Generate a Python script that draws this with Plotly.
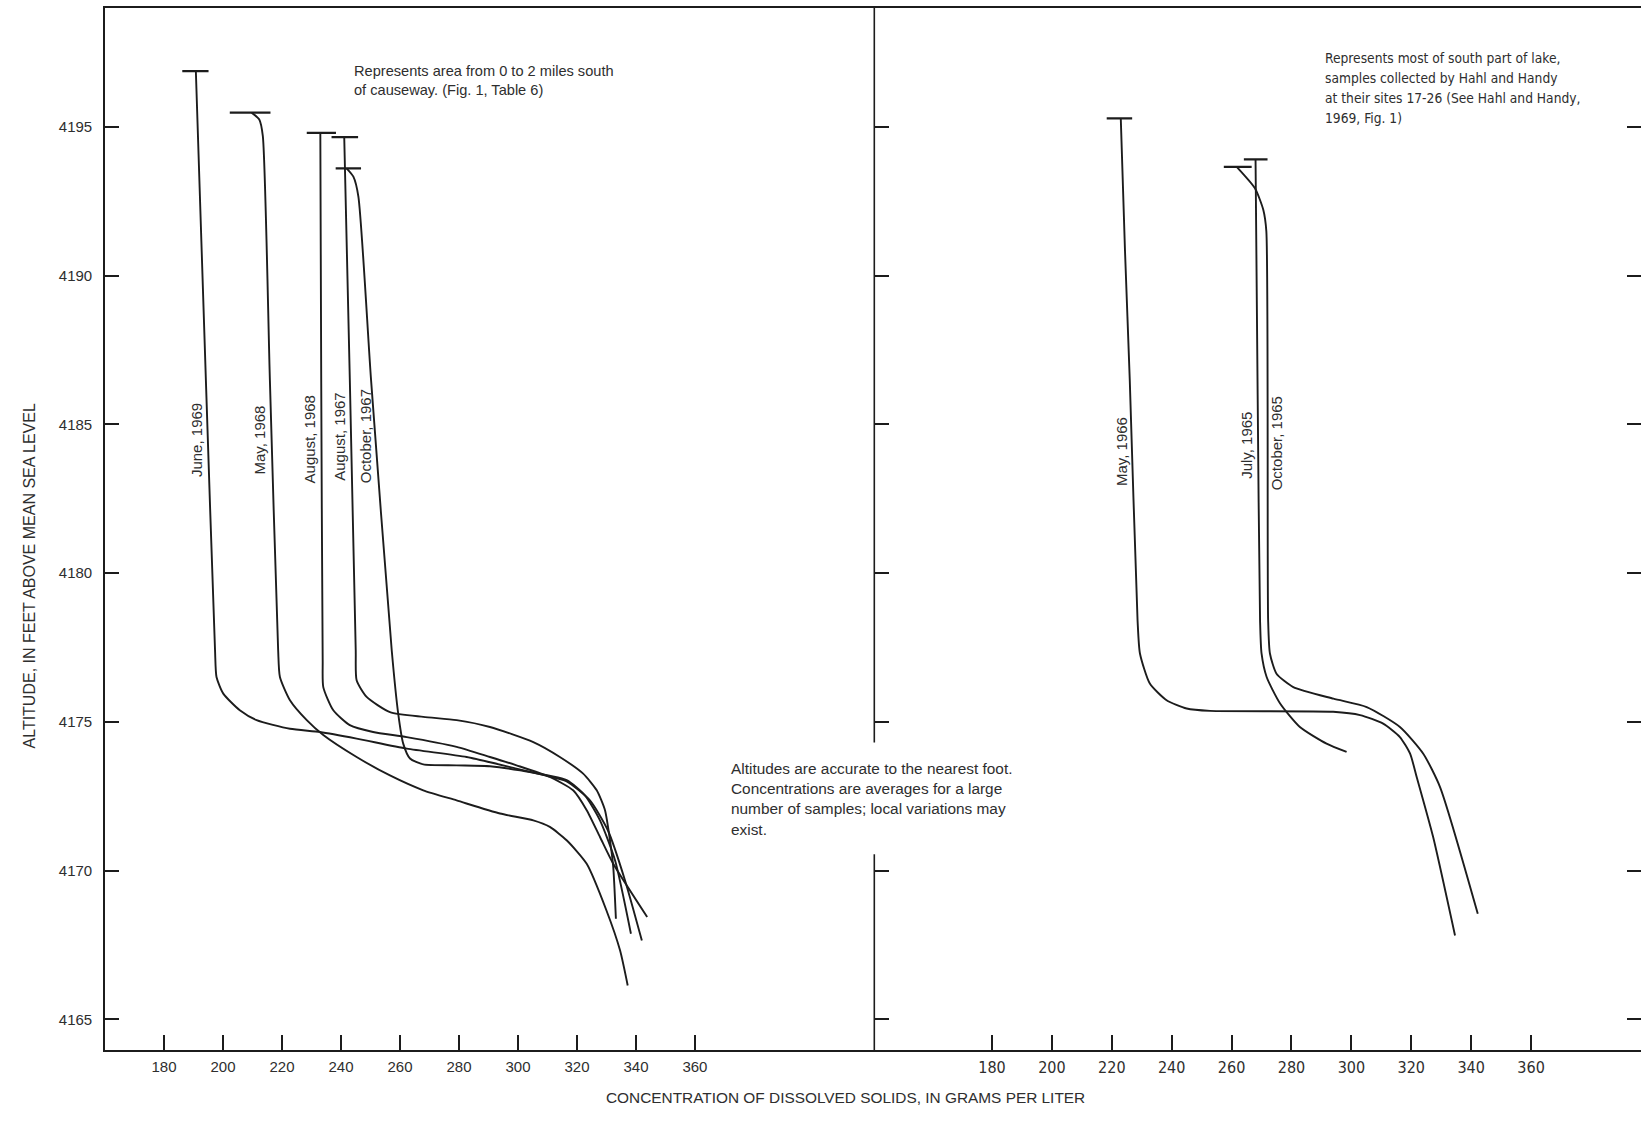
import plotly.graph_objects as go

# ---------------- data ----------------
alt_ticks = [4165, 4170, 4175, 4180, 4185, 4190, 4195]
conc_ticks = [180, 200, 220, 240, 260, 280, 300, 320, 340, 360]

# Left panel: area 0-2 miles south of causeway
june1969_conc = [190.8, 194.2, 197.3, 197.8, 200.1, 205.7, 211.4, 222.7, 232.9, 245.3, 262.3,
                 282.6, 299.5, 309.1, 316.5, 324.4, 330.5, 336.3, 342.0]
june1969_alt = [4196.88, 4186.49, 4177.41, 4176.51, 4175.95, 4175.39, 4175.06, 4174.77, 4174.66, 4174.44, 4174.10,
                4173.82, 4173.43, 4173.20, 4173.00, 4172.36, 4171.35, 4169.67, 4167.65]
june1969_cap = [186.2, 195.1]

may1968_conc = [209.7, 212.3, 213.5, 215.9, 218.7, 219.3, 222.7, 228.4, 234.0, 245.3, 256.6, 267.9,
                279.2, 293.9, 305.2, 310.8, 316.5, 323.3, 330.0, 334.6, 337.2]
may1968_alt = [4195.48, 4195.25, 4194.70, 4186.49, 4177.41, 4176.51, 4175.73, 4175.06, 4174.56, 4173.82, 4173.20, 4172.70,
               4172.36, 4171.92, 4171.69, 4171.47, 4171.02, 4170.23, 4168.66, 4167.32, 4166.14]
may1968_cap = [202.3, 216.1]

aug1968_conc = [233.0, 233.3, 233.8, 234.0, 237.4, 243.0, 250.9, 262.3, 279.2, 290.5, 299.5, 310.8,
                318.7, 323.3, 327.8, 332.3, 343.8]
aug1968_alt = [4194.80, 4186.49, 4177.07, 4176.17, 4175.39, 4174.89, 4174.66, 4174.49, 4174.16, 4173.82, 4173.54, 4173.15,
               4172.70, 4172.03, 4171.13, 4170.23, 4168.44]
aug1968_cap = [228.4, 238.3]

aug1967_conc = [241.1, 243.0, 245.0, 245.3, 248.7, 256.6, 267.9, 279.2, 290.5, 305.2, 314.2, 322.1,
                326.7, 329.5, 331.2, 332.3, 333.2]
aug1967_alt = [4194.66, 4186.49, 4177.41, 4176.40, 4175.84, 4175.33, 4175.17, 4175.06, 4174.83, 4174.32, 4173.82, 4173.26,
               4172.70, 4172.03, 4171.02, 4170.12, 4168.38]
aug1967_cap = [236.8, 245.8]

oct1967_conc = [241.9, 244.2, 245.9, 250.2, 257.2, 259.4, 261.1, 263.4, 267.9, 279.2, 290.5, 300.7,
                316.5, 322.7, 327.8, 332.9, 338.3]
oct1967_alt = [4193.61, 4193.33, 4192.66, 4186.49, 4177.41, 4175.28, 4174.27, 4173.77, 4173.57, 4173.54, 4173.51, 4173.37,
               4173.04, 4172.53, 4171.69, 4170.35, 4167.88]
oct1967_cap = [238.2, 246.8]

# Right panel: south part of lake, Hahl and Handy sites 17-26
may1966_conc = [223.0, 224.4, 226.0, 228.6, 229.4, 232.7, 238.3, 245.0, 252.8, 293.9, 302.9, 310.6,
                316.2, 319.6, 321.8, 327.3, 334.6]
may1966_alt = [4195.29, 4190.86, 4186.49, 4178.42, 4177.30, 4176.29, 4175.73, 4175.45, 4175.37, 4175.34, 4175.23, 4174.94,
               4174.49, 4173.93, 4173.15, 4171.13, 4167.82]
may1966_cap = [218.3, 226.8]

jul1965_conc = [268.0, 268.7, 269.5, 270.0, 271.7, 276.2, 282.8, 291.7, 298.4]
jul1965_alt = [4193.91, 4186.00, 4178.42, 4177.30, 4176.51, 4175.62, 4174.83, 4174.27, 4173.99]
jul1965_cap = [264.1, 272.0]

oct1965_conc = [261.7, 267.8, 270.6, 271.6, 272.2, 272.8, 275.0, 280.6, 294.0, 305.1, 316.2, 324.0, 329.6, 342.2]
oct1965_alt = [4193.66, 4192.94, 4192.21, 4191.50, 4178.42, 4177.30, 4176.62, 4176.17, 4175.78, 4175.50, 4174.83,
               4173.93, 4172.81, 4168.55]
oct1965_cap = [257.4, 266.7]

left_labels = ["June, 1969", "May, 1968", "August, 1968", "August, 1967", "October, 1967"]
right_labels = ["May, 1966", "July, 1965", "October, 1965"]

# ---------------- figure ----------------
W, H = 1642, 1123
ML, MR, MT, MB = 105, 1, 8, 73
PW, PH = W - ML - MR, H - MT - MB
SPLIT = (874.3 - ML) / PW

def px(xp):
    return (xp - ML) / PW

def py(yp):
    return (H - MB - yp) / PH

INK = "#1c1c1c"
TXT = "#2e2e2e"
REG = "Liberation Sans, Arial, Helvetica, sans-serif"
NAR = "Liberation Sans Narrow, DejaVu Sans Condensed, Arial Narrow, sans-serif"

fig = go.Figure()

left_series = [
    (june1969_conc, june1969_alt, june1969_cap),
    (may1968_conc, may1968_alt, may1968_cap),
    (aug1968_conc, aug1968_alt, aug1968_cap),
    (aug1967_conc, aug1967_alt, aug1967_cap),
    (oct1967_conc, oct1967_alt, oct1967_cap),
]
right_series = [
    (may1966_conc, may1966_alt, may1966_cap),
    (jul1965_conc, jul1965_alt, jul1965_cap),
    (oct1965_conc, oct1965_alt, oct1965_cap),
]

for series, xa, ya in [(left_series, "x", "y"), (right_series, "x2", "y2")]:
    for c, a, cap in series:
        fig.add_trace(go.Scatter(x=c, y=a, mode="lines", xaxis=xa, yaxis=ya,
                                 line=dict(color=INK, width=1.9, shape="spline", smoothing=0.6),
                                 showlegend=False, hoverinfo="skip"))
        fig.add_trace(go.Scatter(x=cap, y=[a[0], a[0]], mode="lines", xaxis=xa, yaxis=ya,
                                 line=dict(color=INK, width=2.2),
                                 showlegend=False, hoverinfo="skip"))

YR = [4163.97, 4199.0]
common_x = dict(tickvals=conc_ticks, ticks="inside", ticklen=15, tickwidth=1.6, tickcolor=INK,
                showline=True, linecolor=INK, linewidth=1.6, mirror=True, showgrid=False,
                zeroline=False, ticklabelstandoff=2)

fig.update_layout(
    width=W, height=H,
    margin=dict(l=ML, r=MR, t=MT, b=MB),
    paper_bgcolor="white", plot_bgcolor="white",
    xaxis=dict(domain=[0, SPLIT], range=[160, 420.8], anchor="y",
               tickfont=dict(family=REG, size=15, color=TXT), **common_x),
    xaxis2=dict(domain=[SPLIT, 1], range=[140.7, 396.7], anchor="y2",
                tickfont=dict(family=NAR, size=16, color=TXT), **common_x),
    yaxis=dict(range=YR, tickvals=alt_ticks, ticks="inside", ticklen=14, tickwidth=1.6, tickcolor=INK,
               showline=True, linecolor=INK, linewidth=1.6, showgrid=False, zeroline=False,
               tickfont=dict(family=REG, size=15, color=TXT), ticklabelstandoff=8, anchor="x"),
    yaxis2=dict(range=YR, tickvals=alt_ticks, ticks="inside", ticklen=15, tickwidth=1.6, tickcolor=INK,
                showline=False, showticklabels=False, showgrid=False, zeroline=False, anchor="x2"),
    yaxis3=dict(range=YR, tickvals=alt_ticks, ticks="inside", ticklen=14, tickwidth=1.6, tickcolor=INK,
                showline=False, showticklabels=False, showgrid=False, zeroline=False,
                overlaying="y2", side="right", anchor="x2"),
)

# dummy trace so yaxis3 renders
fig.add_trace(go.Scatter(x=[None], y=[None], xaxis="x2", yaxis="y3", showlegend=False, hoverinfo="skip"))

# divider between the panels, broken where the note crosses it
for y0, y1 in [(4174.31, YR[1]), (YR[0], 4170.55)]:
    fig.add_shape(type="line", xref="paper", yref="y", x0=SPLIT, x1=SPLIT, y0=y0, y1=y1,
                  line=dict(color=INK, width=1.6))

# curve labels (rotated)
left_label_pos = [(190.8, 4184.47), (212.3, 4184.47), (229.2, 4184.50), (239.6, 4184.58), (248.1, 4184.60)]
for t, (x, y) in zip(left_labels, left_label_pos):
    fig.add_annotation(text=t, x=x, y=y, xref="x", yref="y", showarrow=False, textangle=-90,
                       font=dict(family=REG, size=15, color=TXT))
right_label_pos = [(223.0, 4184.10), (265.0, 4184.30), (275.0, 4184.35)]
for t, (x, y) in zip(right_labels, right_label_pos):
    fig.add_annotation(text=t, x=x, y=y, xref="x2", yref="y", showarrow=False, textangle=-90,
                       font=dict(family=REG, size=15, color=TXT))

def note(lines, x0, ys, fam, size):
    for t, yy in zip(lines, ys):
        fig.add_annotation(text=t, x=px(x0), y=py(yy), xref="paper", yref="paper", showarrow=False,
                           xanchor="left", yanchor="middle", font=dict(family=fam, size=size, color=TXT))

note(["Represents area from 0 to 2 miles south", "of causeway. (Fig. 1, Table 6)"],
     352, [70.5, 89.5], REG, 14.6)
note(["Represents most of south part of lake,", "samples collected by Hahl and Handy",
      "at their sites 17-26 (See Hahl and Handy,", "1969, Fig. 1)"],
     1323, [58.5, 78.3, 98.2, 118.0], NAR, 13.7)
note(["Altitudes are accurate to the nearest foot.", "Concentrations are averages for a large",
      "number of samples; local variations may", "exist."],
     729, [768, 788, 808, 829], REG, 15.4)

# axis titles
fig.add_annotation(text="ALTITUDE, IN FEET ABOVE MEAN SEA LEVEL", x=px(18), y=py(576), xref="paper", yref="paper",
                   showarrow=False, textangle=-90, font=dict(family=REG, size=16, color=TXT))
fig.add_annotation(text="CONCENTRATION OF DISSOLVED SOLIDS, IN GRAMS PER LITER", x=px(845), y=py(1108),
                   xref="paper", yref="paper", showarrow=False, font=dict(family=REG, size=15.4, color=TXT))

fig.write_html("out.html")
